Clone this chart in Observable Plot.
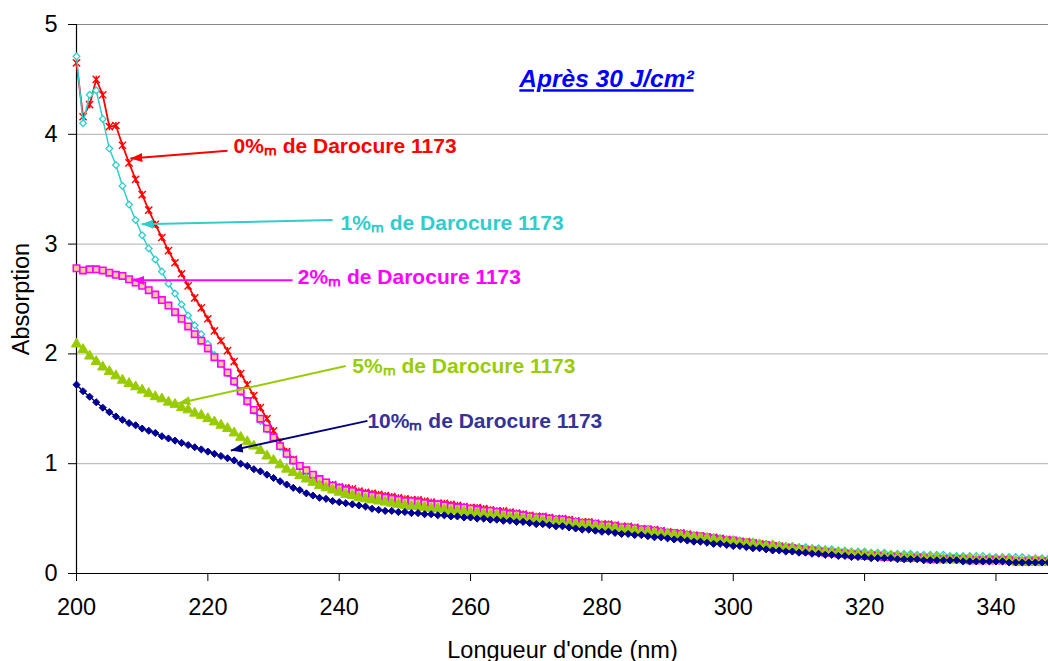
<!DOCTYPE html>
<html><head><meta charset="utf-8">
<script src="https://cdn.jsdelivr.net/npm/d3@7"></script>
<script src="https://cdn.jsdelivr.net/npm/@observablehq/plot@0.6"></script>
<style>
body{margin:0;background:#fff;}
g[aria-description="title"] text{text-decoration:underline;}
</style></head><body><div id="chart"></div>
<script>
// Wavelengths (nm), one measurement per nm
const wavelengths = d3.range(200, 349);

// Absorption series (200..348 nm)
const abs0 = [
4.65,4.16,4.27,4.50,4.36,4.07,4.08,3.90,3.74,3.59,
3.45,3.31,3.18,3.06,2.94,2.83,2.73,2.62,2.51,2.42,
2.32,2.21,2.12,2.03,1.93,1.82,1.72,1.62,1.51,1.41,
1.30,1.20,1.11,1.04,0.98,0.93,0.89,0.86,0.83,0.81,
0.79,0.78,0.77,0.75,0.74,0.73,0.72,0.71,0.70,0.69,
0.68,0.67,0.67,0.66,0.65,0.64,0.64,0.63,0.62,0.61,
0.60,0.60,0.59,0.58,0.57,0.57,0.56,0.55,0.54,0.53,
0.52,0.52,0.51,0.50,0.50,0.49,0.48,0.47,0.47,0.46,
0.45,0.45,0.44,0.43,0.43,0.42,0.41,0.40,0.40,0.39,
0.38,0.37,0.37,0.36,0.35,0.34,0.33,0.33,0.32,0.31,
0.30,0.29,0.29,0.28,0.27,0.26,0.25,0.25,0.24,0.23,
0.22,0.22,0.21,0.20,0.20,0.19,0.19,0.18,0.18,0.17,
0.17,0.17,0.16,0.16,0.16,0.15,0.15,0.15,0.15,0.14,
0.14,0.14,0.14,0.14,0.13,0.13,0.13,0.13,0.13,0.13,
0.12,0.12,0.12,0.12,0.12,0.12,0.12,0.11,0.11];
const abs1 = [
4.71,4.10,4.36,4.40,4.14,3.87,3.72,3.53,3.36,3.22,
3.08,2.96,2.86,2.75,2.64,2.55,2.45,2.35,2.26,2.18,
2.09,1.99,1.91,1.82,1.74,1.65,1.56,1.48,1.39,1.31,
1.23,1.15,1.08,1.02,0.97,0.92,0.88,0.84,0.81,0.79,
0.77,0.75,0.74,0.72,0.71,0.70,0.69,0.68,0.67,0.66,
0.65,0.64,0.64,0.63,0.62,0.61,0.61,0.60,0.59,0.58,
0.58,0.57,0.56,0.56,0.55,0.54,0.53,0.53,0.52,0.51,
0.51,0.50,0.49,0.49,0.48,0.47,0.47,0.46,0.45,0.45,
0.44,0.43,0.43,0.42,0.42,0.41,0.40,0.40,0.39,0.38,
0.38,0.37,0.36,0.36,0.35,0.34,0.33,0.33,0.32,0.31,
0.31,0.30,0.29,0.29,0.28,0.27,0.27,0.26,0.25,0.25,
0.24,0.24,0.23,0.23,0.22,0.22,0.21,0.21,0.20,0.20,
0.20,0.19,0.19,0.19,0.18,0.18,0.18,0.18,0.17,0.17,
0.17,0.17,0.17,0.16,0.16,0.16,0.16,0.16,0.16,0.15,
0.15,0.15,0.15,0.15,0.15,0.14,0.14,0.14,0.14];
const abs2 = [
2.78,2.76,2.77,2.77,2.76,2.74,2.72,2.71,2.68,2.65,
2.62,2.58,2.54,2.49,2.44,2.38,2.32,2.25,2.18,2.12,
2.05,1.97,1.91,1.83,1.75,1.66,1.57,1.49,1.41,1.32,
1.24,1.16,1.09,1.03,0.98,0.94,0.90,0.86,0.83,0.80,
0.78,0.76,0.75,0.73,0.72,0.71,0.70,0.69,0.68,0.67,
0.66,0.66,0.65,0.64,0.63,0.63,0.62,0.61,0.60,0.60,
0.59,0.58,0.57,0.57,0.56,0.55,0.54,0.54,0.53,0.52,
0.51,0.51,0.50,0.49,0.49,0.48,0.47,0.46,0.46,0.45,
0.44,0.44,0.43,0.42,0.42,0.41,0.40,0.40,0.39,0.38,
0.37,0.37,0.36,0.35,0.34,0.34,0.33,0.32,0.31,0.30,
0.30,0.29,0.28,0.27,0.26,0.26,0.25,0.24,0.23,0.23,
0.22,0.21,0.21,0.20,0.19,0.19,0.18,0.18,0.17,0.17,
0.16,0.16,0.16,0.15,0.15,0.15,0.14,0.14,0.14,0.14,
0.13,0.13,0.13,0.13,0.13,0.13,0.12,0.12,0.12,0.12,
0.12,0.12,0.12,0.11,0.11,0.11,0.11,0.11,0.11];
const abs5 = [
2.09,2.04,1.98,1.93,1.88,1.84,1.80,1.76,1.73,1.70,
1.67,1.64,1.61,1.59,1.56,1.54,1.51,1.49,1.46,1.44,
1.41,1.38,1.35,1.32,1.28,1.24,1.20,1.16,1.12,1.07,
1.03,0.99,0.95,0.92,0.89,0.86,0.83,0.80,0.78,0.76,
0.74,0.72,0.71,0.69,0.68,0.67,0.66,0.65,0.64,0.63,
0.62,0.61,0.61,0.60,0.59,0.59,0.58,0.57,0.57,0.56,
0.55,0.55,0.54,0.53,0.53,0.52,0.51,0.51,0.50,0.49,
0.49,0.48,0.47,0.47,0.46,0.45,0.45,0.44,0.43,0.43,
0.42,0.41,0.41,0.40,0.40,0.39,0.38,0.38,0.37,0.36,
0.36,0.35,0.34,0.34,0.33,0.32,0.32,0.31,0.30,0.29,
0.29,0.28,0.27,0.27,0.26,0.25,0.25,0.24,0.23,0.23,
0.22,0.21,0.21,0.20,0.20,0.19,0.19,0.18,0.18,0.17,
0.17,0.17,0.16,0.16,0.16,0.15,0.15,0.15,0.14,0.14,
0.14,0.14,0.13,0.13,0.13,0.13,0.13,0.12,0.12,0.12,
0.12,0.12,0.12,0.11,0.11,0.11,0.11,0.11,0.11];
const abs10 = [
1.72,1.66,1.61,1.56,1.51,1.47,1.43,1.40,1.37,1.35,
1.32,1.30,1.28,1.25,1.23,1.21,1.19,1.17,1.15,1.13,
1.11,1.09,1.07,1.05,1.03,1.00,0.98,0.95,0.93,0.90,
0.87,0.84,0.81,0.78,0.76,0.73,0.71,0.69,0.68,0.66,
0.65,0.64,0.63,0.62,0.61,0.59,0.58,0.57,0.57,0.56,
0.56,0.55,0.55,0.54,0.54,0.53,0.53,0.52,0.52,0.51,
0.51,0.50,0.50,0.49,0.49,0.48,0.48,0.47,0.47,0.46,
0.45,0.45,0.44,0.43,0.43,0.42,0.41,0.40,0.40,0.39,
0.38,0.38,0.37,0.36,0.36,0.35,0.35,0.34,0.33,0.33,
0.32,0.31,0.31,0.30,0.29,0.29,0.28,0.27,0.27,0.26,
0.25,0.25,0.24,0.23,0.23,0.22,0.21,0.21,0.20,0.20,
0.19,0.19,0.18,0.18,0.17,0.17,0.16,0.16,0.15,0.15,
0.15,0.14,0.14,0.14,0.14,0.13,0.13,0.13,0.13,0.12,
0.12,0.12,0.12,0.12,0.12,0.11,0.11,0.11,0.11,0.11,
0.11,0.11,0.10,0.10,0.10,0.10,0.10,0.10,0.10];

// Axis ticks
const xTicks = [200, 220, 240, 260, 280, 300, 320, 340];
const yTicks = [0, 1, 2, 3, 4, 5];
const gridValues = [1, 2, 3, 4];
const topValue = [5];

// Annotations (in data units)
const annLabels = ["0%\u2098 de Darocure 1173", "1%\u2098 de Darocure 1173", "2%\u2098 de Darocure 1173", "5%\u2098 de Darocure 1173", "10%\u2098 de Darocure 1173"];
const annLabelX = [223.9, 240.2, 233.7, 242.0, 244.3];
const annLabelY = [3.89, 3.19, 2.70, 1.89, 1.39];
const annFromX = [223.0, 239.0, 232.9, 241.0, 244.3];
const annFromY = [3.85, 3.22, 2.67, 1.89, 1.39];
const annToX = [208.2, 209.9, 208.5, 215.5, 223.5];
const annToY = [3.78, 3.18, 2.67, 1.55, 1.12];
const titleText = ["Après 30 J/cm²"];
const titleX = [280.7];
const titleY = [4.50];

const labelColors = ["#FF0000", "#33CCCC", "#FF00FF", "#99CC00", "#333399"];
const arrowColors = ["#FF0000", "#33CCCC", "#FF00FF", "#99CC00", "#000080"];

const starSymbol = {
  draw(ctx, size) {
    const r = Math.sqrt(size / Math.PI);
    ctx.moveTo(-r, -r); ctx.lineTo(r, r);
    ctx.moveTo(-r, r); ctx.lineTo(r, -r);
    ctx.moveTo(0, -r); ctx.lineTo(0, r);
  }
};

function arrowHead(color) {
  const m = d3.create("svg:marker")
    .attr("viewBox", "-12 -6 12 12")
    .attr("markerWidth", 12).attr("markerHeight", 12)
    .attr("markerUnits", "userSpaceOnUse")
    .attr("orient", "auto")
    .attr("refX", 0).attr("refY", 0)
    .attr("fill", color).attr("stroke", "none");
  m.append("path").attr("d", "M0,0L-12,-4.5L-12,4.5Z");
  const n = m.node();
  n.node = () => n;
  return n;
}

const xOf = (d, i) => wavelengths[i];
const yOf = d => d;

const seriesSpecs = [
  {data: abs0, line: "#FF0000", lw: 1.8, dot: {symbol: starSymbol, r: 3.6, fill: "none", stroke: "#FF0000", strokeWidth: 1.4}},
  {data: abs1, line: "#33CCCC", lw: 1.5, dot: {symbol: "diamond2", r: 3.0, fill: "white", stroke: "#33CCCC", strokeWidth: 1.3}},
  {data: abs2, line: "#FF00FF", lw: 1.5, dot: {symbol: "square", r: 3.6, fill: "#FFCC99", stroke: "#FF00FF", strokeWidth: 1.6}},
  {data: abs5, line: "#99CC00", lw: 1.5, dot: {symbol: "triangle", r: 3.8, fill: "#99CC00", stroke: "#99CC00", strokeWidth: 1}},
  {data: abs10, line: "#000080", lw: 1.5, dot: {symbol: "diamond2", r: 3.2, fill: "#0000A0", stroke: "#000080", strokeWidth: 1}}
];

const marks = [
  Plot.ruleY(gridValues, {stroke: "#b0b0b0", strokeWidth: 1}),
  Plot.ruleY(topValue, {stroke: "#888", strokeWidth: 1}),
  Plot.ruleY([0], {stroke: "#000", strokeWidth: 1.2}),
  Plot.ruleX([200], {stroke: "#000", strokeWidth: 1.2}),
];
for (const s of seriesSpecs) {
  marks.push(Plot.line(s.data, {x: xOf, y: yOf, stroke: s.line, strokeWidth: s.lw}));
  marks.push(Plot.dot(s.data, {x: xOf, y: yOf, ...s.dot}));
}
annLabels.forEach((lab, i) => {
  marks.push(Plot.link([i], {x1: () => annFromX[i], y1: () => annFromY[i], x2: () => annToX[i], y2: () => annToY[i], stroke: arrowColors[i], strokeWidth: 2, markerEnd: arrowHead}));
  marks.push(Plot.text([lab], {x: () => annLabelX[i], y: () => annLabelY[i], text: d => d, fill: labelColors[i], fontWeight: "bold", fontSize: 21, textAnchor: "start", lineAnchor: "middle"}));
});
marks.push(Plot.text(titleText, {x: (d, i) => titleX[i], y: (d, i) => titleY[i], text: d => d, fill: "#0000FF", fontWeight: "bold", fontStyle: "italic", fontSize: 24.5, ariaDescription: "title"}));

const chart = Plot.plot({
  width: 1048,
  height: 661,
  marginLeft: 76,
  marginRight: 0,
  marginTop: 24,
  marginBottom: 88,
  style: {fontFamily: "'Liberation Sans', Arial, sans-serif", fontSize: "23.5px", background: "#fff", color: "#000"},
  x: {domain: [200, 348], ticks: xTicks, tickFormat: d3.format("d"), tickSize: 8, tickPadding: 17, label: "Longueur d'onde (nm)", labelArrow: false, labelAnchor: "center", labelOffset: 84},
  y: {domain: [0, 5], ticks: yTicks, tickFormat: d3.format("d"), tickSize: 8, tickPadding: 11, label: "Absorption", labelArrow: false, labelAnchor: "center", labelOffset: 64},
  marks
});
document.getElementById("chart").appendChild(chart);
</script></body></html>
